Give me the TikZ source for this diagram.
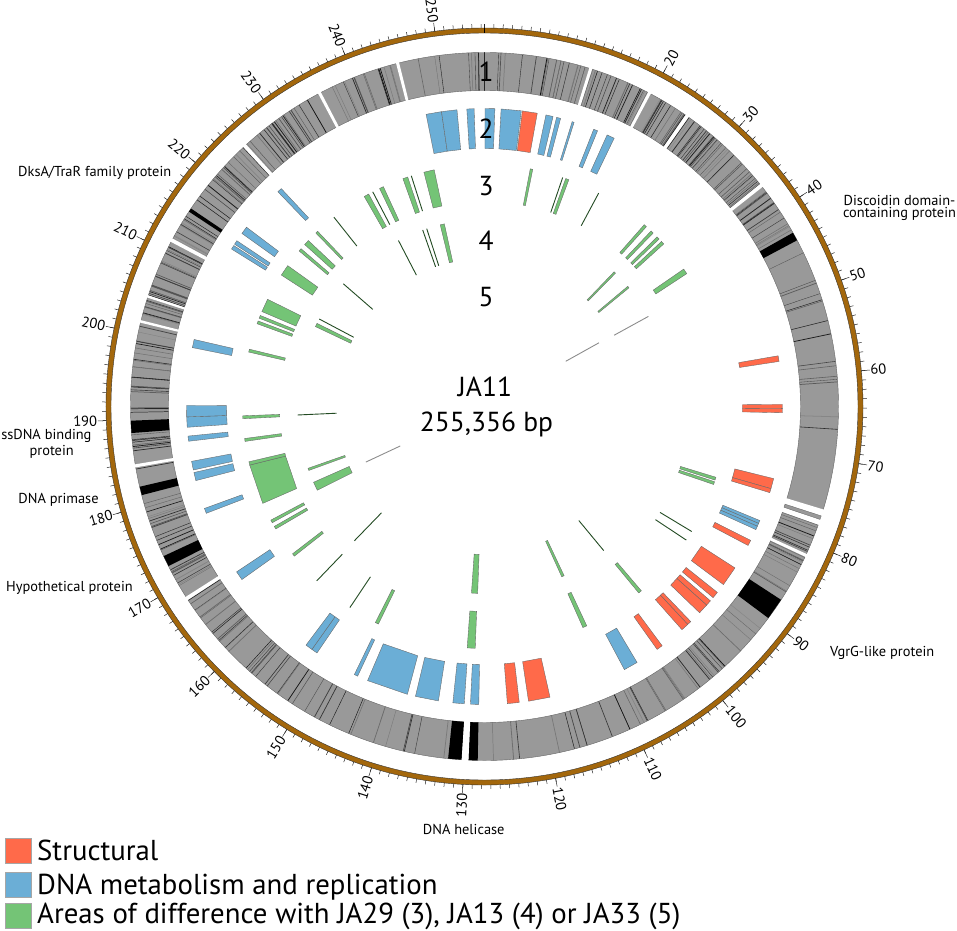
\documentclass[tikz,border=0pt]{standalone}
\usepackage{fontspec}
\setmainfont{PT Sans}
\definecolor{cred}{RGB}{255,106,74}
\definecolor{cblue}{RGB}{107,174,214}
\definecolor{cgreen}{RGB}{116,196,118}
\definecolor{cgray}{RGB}{153,153,153}
\definecolor{cbrown}{RGB}{163,103,12}
\definecolor{cdark}{RGB}{35,75,35}
\newcommand{\gblk}[5]{\filldraw[fill=#5, draw=black!60, line width=0.35pt] ({90-(#3)}:#1) -- ({90-(#3)}:#2) -- ({90-(#4)}:#2) -- ({90-(#4)}:#1) -- cycle;}
\newcommand{\wgap}[2]{\fill[white] ({90-(#1)}:314) -- ({90-(#1)}:356) -- ({90-(#2)}:356) -- ({90-(#2)}:314) -- cycle;}
\begin{document}
\begin{tikzpicture}[x=1pt,y=1pt,
  genelab/.style={font=\fontsize{14.4}{17}\selectfont, inner sep=0pt},
  ticklab/.style={font=\fontsize{14.5}{17}\selectfont, inner sep=0.5pt},
  bigtxt/.style={font=\fontsize{27.5}{32}\selectfont, inner sep=0pt},
  legtxt/.style={font=\fontsize{28.8}{34}\selectfont, inner sep=0pt},
  darkln/.style={draw=cdark, line width=0.9pt},
  grayln/.style={draw=black!45, line width=0.9pt},
  ticksty/.style={draw=black!85, line width=0.5pt}]
\useasboundingbox (-484.5,-523.5) rectangle (472.5,406.5);
% ---------- brown scale ring ----------
\fill[cbrown, even odd rule] (0,0) circle (378.5pt) (0,0) circle (373.5pt);
\draw[black!80, line width=0.4pt] (0,0) circle (378.5pt) (0,0) circle (373.5pt);
\draw[black, line width=1pt] (90:373.5) -- (90:378.5);
\foreach \k in {0,...,255} {\draw[ticksty] ({90-\k*1.4097964}:378.5) -- ({90-\k*1.4097964}:382.5);}
\foreach \k in {20,30,...,250} {
  \pgfmathsetmacro\th{\k*1.4097964}
  \draw[ticksty] ({90-\th}:378.5) -- ({90-\th}:387);
  \ifdim\th pt<180pt
    \pgfmathsetmacro\rot{90-\th}
    \node[ticklab, anchor=west, rotate=\rot] (t\k) at ({90-\th}:387) {\k};
  \else
    \pgfmathsetmacro\rot{270-\th}
    \node[ticklab, anchor=east, rotate=\rot] (t\k) at ({90-\th}:387) {\k};
  \fi
}
% ---------- ring 1 ----------
\fill[cgray, even odd rule] (0,0) circle (354pt) (0,0) circle (316pt);
\pgfmathsetseed{2718}
\foreach \ra/\rb/\rc in {345/360/8, 0/10/5, 10/17/14, 17.7/27.5/20, 28/34.6/14, 35.2/51.1/36, 51.7/60.6/14, 62/80/8, 80/106.9/7, 109.5/114.6/9, 115.1/123.1/10, 126.7/145/16, 145/181.1/20, 185.9/215/14, 215/236.9/24, 237.5/243.2/10, 245/255.5/14, 256.9/265.7/10, 267.7/283.7/22, 284.1/297.7/30, 298.3/317.1/32, 317.7/332/26, 332.5/345/15} {
  \foreach \i in {1,...,\rc} {
    \pgfmathsetmacro\t{\ra+(\rb-\ra)*rnd}
    \pgfmathsetmacro\sh{45+50*rnd}
    \pgfmathsetmacro\wd{0.3+0.5*rnd}
    \draw[black!\sh, line width=\wd pt] ({90-\t}:316) -- ({90-\t}:354);
  }
}
\draw[black!85, line width=0.6pt] (90:316) -- (90:354);
\draw[black!60, line width=0.4pt] (0,0) circle (354pt) (0,0) circle (316pt);
\foreach \p/\q in {303.4/304.0, 60.6/62.0, 123.1/126.7, 183.7/185.9, 181.1/182.6, 265.7/267.7, 255.5/256.9, 243.2/245.0} {
  \fill[black] ({90-\p}:316) -- ({90-\p}:354) -- ({90-\q}:354) -- ({90-\q}:316) -- cycle;}
\foreach \p/\q in {345.55/346.05, 17.2/17.7, 332.0/332.5, 27.5/28.0, 34.6/35.2, 51.1/51.7, 106.9/109.5, 114.6/115.1, 260.1/260.6, 236.9/237.5, 283.7/284.1, 297.7/298.3, 317.1/317.7, 287.9/288.3, 182.6/183.7} {\wgap{\p}{\q}}
\gblk{316}{354}{108.0}{108.6}{cgray}
% ---------- ring 2 ----------
\foreach \p/\q in {348.7/351.7, 351.7/354.7, 356.6/358.0, 0.1/2.0, 3.2/7.1, 11.9/13.3, 14.0/14.8, 17.1/17.5, 21.5/22.3, 24.3/25.8, 112.5/113.1, 113.1/113.7, 113.7/114.4, 149.2/152.0, 181.1/182.7, 183.9/186.1, 188.9/193.4, 195.0/203.1, 205.2/205.9, 214.2/215.4, 215.4/216.8, 234.5/236.3, 249.0/250.0, 255.6/257.2, 257.7/259.4, 263.3/264.3, 266.0/268.0, 268.0/270.2, 281.4/283.0, 301.9/302.7, 303.0/303.8, 305.5/307.0, 316.1/317.0} {\gblk{258}{298}{\p}{\q}{cblue}}
\foreach \p/\q in {7.3/10.2, 80.2/81.3, 89.6/90.4, 90.4/91.2, 104.0/106.0, 106.0/106.8, 116.7/117.8, 122.8/126.7, 128.6/129.9, 130.7/131.8, 131.8/133.8, 136.2/137.0, 137.0/138.5, 143.4/144.6, 167.3/171.5, 173.3/175.6} {\gblk{258}{298}{\p}{\q}{cred}}
% ---------- ring 3 ----------
\foreach \p/\q in {345.5/348.0, 340.3/341.5, 330.2/331.4, 334.3/335.3, 10.9/11.5, 19.6/20.4, 41.3/42.0, 43.5/44.2, 45.5/46.2, 47.0/47.8, 55.4/56.7, 107.0/107.7, 108.1/108.8, 139.6/140.4, 155.0/156.0, 182.2/184.1, 206.0/206.8, 231.8/232.5, 239.6/240.3, 241.3/242.0, 246.4/256.0, 256.0/256.8, 261.7/262.4, 267.1/267.8, 283.0/283.7, 290.0/290.7, 291.4/292.1, 293.1/296.3, 302.9/305.6, 310.0/310.7, 312.0/313.3, 315.8/316.4} {\gblk{205}{242}{\p}{\q}{cgreen}}
\foreach \p in {342.4, 332.5, 18.85, 28.15, 121.1, 123.5, 213.8, 223.9, 321.5} {\draw[darkln] ({90-\p}:205) -- ({90-\p}:242);}
% ---------- ring 4 ----------
\foreach \p/\q in {346.3/347.6, 43.9/44.5, 50.0/50.6, 154.8/155.6, 182.1/184.0, 243.4/246.1, 250.0/250.7, 295.3/296.4} {\gblk{148}{187}{\p}{\q}{cgreen}}
\foreach \p in {332.6, 340.7, 342.0, 140.4, 224.1, 267.4, 297.9, 311.0} {\draw[darkln] ({90-\p}:148) -- ({90-\p}:187);}
\draw[grayln] ({90-61.2}:148) -- ({90-61.2}:187);
% ---------- ring 5 ----------
\foreach \p in {60.9, 244.9} {\draw[grayln] ({90-\p}:93) -- ({90-\p}:131);}
% ---------- ring numbers and centre ----------
\node[bigtxt, anchor=base] (r1) at (1.5,324.8) {1};
\node[bigtxt, anchor=base] (r2) at (1.5,268.2) {2};
\node[bigtxt, anchor=base] (r3) at (1.5,211.5) {3};
\node[bigtxt, anchor=base] (r4) at (1.5,156.5) {4};
\node[bigtxt, anchor=base] (r5) at (1.5,99.8) {5};
\node[bigtxt, anchor=base] (gname) at (0.5,9.8) {JA11};
\node[bigtxt, anchor=base] (gsize) at (2,-25.2) {255,356 bp};
% ---------- gene labels ----------
\node[genelab, anchor=base west] (dksa) at (-466.5,230.5) {DksA/TraR family protein};
\node[genelab, anchor=base] (disc1) at (415,201.5) {Discoidin domain-};
\node[genelab, anchor=base] (disc2) at (415,189.5) {containing protein};
\node[genelab, anchor=base east] (ss1) at (-392.8,-32.8) {ssDNA binding};
\node[genelab, anchor=base] (ss2) at (-432.8,-49.2) {protein};
\node[genelab, anchor=base west] (prim) at (-466.2,-96.8) {DNA primase};
\node[genelab, anchor=base west] (hyp) at (-478.5,-185) {Hypothetical protein};
\node[genelab, anchor=base west] (vgrg) at (345.5,-249.5) {VgrG-like protein};
\node[genelab, anchor=base west] (heli) at (-61.8,-427.5) {DNA helicase};
% ---------- legend ----------
\filldraw[fill=cred, draw=black!35, line width=0.5pt] (-479.5,-431.5) rectangle (-453.5,-456.5);
\filldraw[fill=cblue, draw=black!35, line width=0.5pt] (-479.5,-465.5) rectangle (-453.5,-490.5);
\filldraw[fill=cgreen, draw=black!35, line width=0.5pt] (-479.5,-496.5) rectangle (-453.5,-521.5);
\node[legtxt, anchor=base west] (l1) at (-447.5,-454) {Structural};
\node[legtxt, anchor=base west] (l2) at (-447.5,-487.5) {DNA metabolism and replication};
\node[legtxt, anchor=base west] (l3) at (-447.5,-517) {Areas of difference with JA29 (3), JA13 (4) or JA33 (5)};
\end{tikzpicture}
\end{document}
